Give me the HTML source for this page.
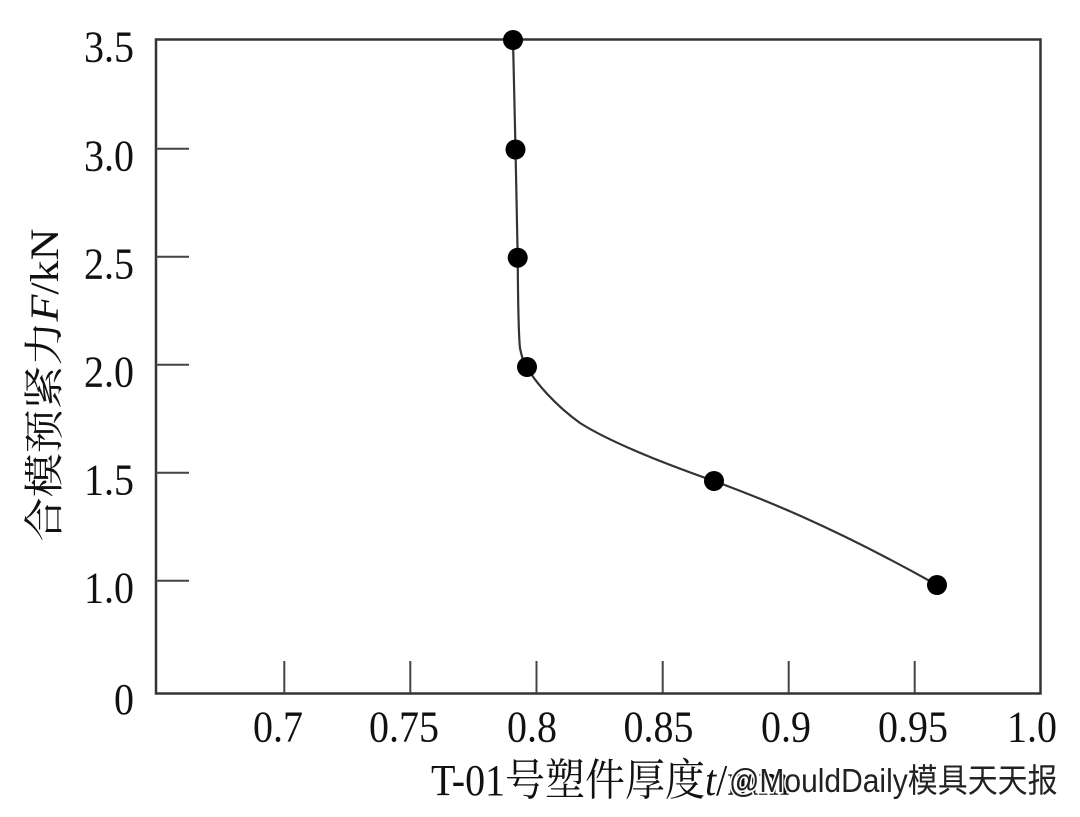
<!DOCTYPE html>
<html>
<head>
<meta charset="utf-8">
<style>
  html, body { margin: 0; padding: 0; background: #fff; }
  svg { display: block; }
  .num { font-family: "Liberation Serif", "Noto Serif CJK SC", serif; font-size: 40px; fill: #111; }
  .ttl { font-family: "Liberation Serif", "Noto Serif CJK SC", serif; font-size: 40px; fill: #111; }
  .wm { font-family: "Liberation Sans", "Noto Sans CJK SC", sans-serif; font-size: 30px; fill: #222; stroke: #fff; stroke-width: 3px; paint-order: stroke; }
</style>
</head>
<body>
<svg width="1080" height="817" viewBox="0 0 1080 817" xmlns="http://www.w3.org/2000/svg">
  <rect width="1080" height="817" fill="#fff"/>
  <!-- axes box -->
  <rect x="156" y="39.5" width="884.5" height="654" fill="none" stroke="#333" stroke-width="2.5"/>
  <!-- y ticks -->
  <g stroke="#444" stroke-width="2">
    <line x1="156" y1="148.7" x2="189" y2="148.7"/>
    <line x1="156" y1="256.7" x2="189" y2="256.7"/>
    <line x1="156" y1="364.7" x2="189" y2="364.7"/>
    <line x1="156" y1="472.7" x2="189" y2="472.7"/>
    <line x1="156" y1="580.7" x2="189" y2="580.7"/>
  </g>
  <!-- x ticks -->
  <g stroke="#444" stroke-width="2">
    <line x1="284.3" y1="693" x2="284.3" y2="661"/>
    <line x1="410.3" y1="693" x2="410.3" y2="661"/>
    <line x1="536.5" y1="693" x2="536.5" y2="661"/>
    <line x1="662.7" y1="693" x2="662.7" y2="661"/>
    <line x1="788.7" y1="693" x2="788.7" y2="661"/>
    <line x1="914.7" y1="693" x2="914.7" y2="661"/>
  </g>
  <!-- y labels -->
  <g class="num" text-anchor="end">
    <text transform="translate(134,61.5) scale(1,1.1)">3.5</text>
    <text transform="translate(134,170.7) scale(1,1.1)">3.0</text>
    <text transform="translate(134,278.7) scale(1,1.1)">2.5</text>
    <text transform="translate(134,386.7) scale(1,1.1)">2.0</text>
    <text transform="translate(134,494.7) scale(1,1.1)">1.5</text>
    <text transform="translate(134,602.7) scale(1,1.1)">1.0</text>
    <text transform="translate(134,714) scale(1,1.1)">0</text>
  </g>
  <!-- x labels -->
  <g class="num" text-anchor="middle">
    <text transform="translate(278,741.5) scale(1,1.1)">0.7</text>
    <text transform="translate(404,741.5) scale(1,1.1)">0.75</text>
    <text transform="translate(532,741.5) scale(1,1.1)">0.8</text>
    <text transform="translate(658.5,741.5) scale(1,1.1)">0.85</text>
    <text transform="translate(786,741.5) scale(1,1.1)">0.9</text>
    <text transform="translate(913,741.5) scale(1,1.1)">0.95</text>
    <text transform="translate(1032,741.5) scale(1,1.1)">1.0</text>
  </g>
  <!-- y title -->
  <text class="ttl" text-anchor="middle" font-size="35.5" transform="translate(58,385) scale(1,1.1) rotate(-90)">合模预紧力<tspan font-style="italic">F</tspan>/kN</text>
  <!-- x title -->
  <text class="ttl" transform="translate(431,795) scale(1,1.1)">T-01号塑件厚度<tspan font-style="italic">t</tspan>/mm</text>
  <!-- watermark -->
  <text class="wm" transform="translate(729,792) scale(1,1.1)">@MouldDaily模具天天报</text>
  <!-- curve -->
  <path d="M513,40 L515.5,149 L517.7,258 C518,300 518.5,335 520,348 C522,358 524,364 527,367 C535,382 555,405 580,423 C610,442 660,462 714,481 C760,498 830,525 937,585"
        fill="none" stroke="#333" stroke-width="2.2"/>
  <!-- markers -->
  <g fill="#000">
    <circle cx="513" cy="40" r="10"/>
    <circle cx="515.5" cy="149.5" r="10"/>
    <circle cx="517.7" cy="257.7" r="10"/>
    <circle cx="527" cy="367" r="10"/>
    <circle cx="714" cy="481" r="10"/>
    <circle cx="937" cy="585" r="10"/>
  </g>
</svg>
</body>
</html>
